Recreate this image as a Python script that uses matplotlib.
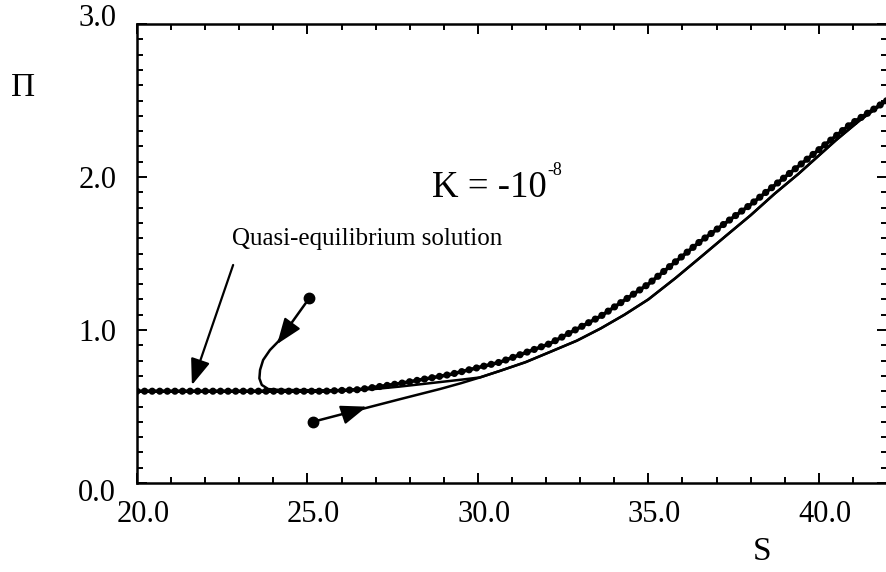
import matplotlib
matplotlib.use('Agg')
import matplotlib.pyplot as plt
from matplotlib.ticker import MultipleLocator
from matplotlib.transforms import ScaledTranslation

plt.rcParams['font.family'] = ['Liberation Serif', 'DejaVu Serif']

# quasi-equilibrium solution (thick beaded curve)
quasi_s = [20.0, 22.0, 24.0, 25.5, 26.5, 27.7, 29.2, 30.65, 32.1, 33.6,
           35.0, 36.5, 38.0, 39.4, 40.9, 42.0]
quasi_pi = [0.60, 0.60, 0.60, 0.60, 0.61, 0.65, 0.71, 0.79, 0.91, 1.09,
            1.30, 1.575, 1.82, 2.07, 2.34, 2.50]

# trajectory starting above (S=25, Pi=1.2)
traj_a_s = [25.05, 24.14, 23.90, 23.70, 23.61, 23.59, 23.66, 23.85, 24.19,
            26.0, 27.0, 27.7, 28.3, 28.9, 29.5]
traj_a_pi = [1.207, 0.924, 0.869, 0.804, 0.739, 0.684, 0.641, 0.614, 0.608,
             0.605, 0.615, 0.63, 0.645, 0.66, 0.675]

# trajectory starting below (S=25, Pi=0.4)
traj_b_s = [25.16, 26.45, 27.7, 28.9, 29.5]
traj_b_pi = [0.40, 0.475, 0.547, 0.615, 0.652]

# common part after the two trajectories merge
tail_s = [30.06, 30.65, 31.4, 32.1, 32.9, 33.6, 34.3, 35.0, 35.8, 36.5,
          37.3, 38.0, 38.7, 39.4, 40.5, 41.2, 42.0]
tail_pi = [0.69, 0.733, 0.79, 0.855, 0.93, 1.01, 1.10, 1.20, 1.34, 1.47,
           1.62, 1.75, 1.89, 2.02, 2.24, 2.37, 2.50]

# arrowheads on the trajectories: (tail, tip)
arrow_a = ((24.34, 0.978), (24.11, 0.908))
arrow_b = ((26.30, 0.466), (26.74, 0.499))

x_ticks = [20.0, 25.0, 30.0, 35.0, 40.0]
y_ticks = [0.0, 1.0, 2.0, 3.0]

W, H = 886, 572
fig = plt.figure(figsize=(W / 100, H / 100), dpi=100)
ax = fig.add_axes([137 / W, 1 - 483 / H, 750 / W, (483 - 24) / H])

ax.plot(quasi_s, quasi_pi, color='black', lw=2.6, solid_capstyle='round',
        solid_joinstyle='round', zorder=3)
ax.plot(quasi_s, quasi_pi, color='black', lw=5.2, linestyle=(0, (0.001, 1.05)),
        dash_capstyle='round', zorder=3)

a_s = traj_a_s + tail_s
a_pi = traj_a_pi + tail_pi
b_s = traj_b_s + tail_s
b_pi = traj_b_pi + tail_pi
ax.plot(a_s, a_pi, color='black', lw=1.8, solid_joinstyle='round', zorder=4)
ax.plot(b_s, b_pi, color='black', lw=1.8, solid_joinstyle='round', zorder=4)
ax.plot([traj_a_s[0], traj_b_s[0]], [traj_a_pi[0], traj_b_pi[0]], 'o',
        color='black', ms=7.5, zorder=5)

for tail, tip in (arrow_a, arrow_b):
    ax.annotate('', xy=tip, xytext=tail,
                arrowprops=dict(arrowstyle='-|>,head_length=0.8,head_width=0.3',
                                color='black', lw=1.5, mutation_scale=20,
                                shrinkA=0, shrinkB=0), zorder=6)

# pointer from the label to the quasi-equilibrium line
ax.annotate('', xy=(21.61, 0.64), xytext=(22.82, 1.425),
            arrowprops=dict(arrowstyle='-|>,head_length=0.8,head_width=0.3',
                            color='black', lw=1.6, mutation_scale=20,
                            shrinkA=0, shrinkB=0), zorder=6)
ax.text(22.79, 1.556, 'Quasi-equilibrium solution', fontsize=18,
        ha='left', va='baseline')
ax.text(28.65, 1.869, 'K = -10', fontsize=26.5, ha='left', va='baseline')
ax.text(32.05, 2.013, '-8', fontsize=13, ha='left', va='baseline')

ax.set_xlim(20, 42)
ax.set_ylim(0, 3)
ax.set_xticks(x_ticks)
ax.set_yticks(y_ticks)
ax.set_xticklabels(['%.1f' % v for v in x_ticks])
ax.set_yticklabels(['%.1f' % v for v in y_ticks])
ax.xaxis.set_minor_locator(MultipleLocator(1.0))
ax.yaxis.set_minor_locator(MultipleLocator(0.1))
ax.tick_params(which='both', direction='in', top=True, right=True,
               width=1.4, labelsize=22)
ax.tick_params(which='major', length=7.5)
ax.tick_params(which='minor', length=4.3)
ax.tick_params(axis='x', pad=12)
ax.tick_params(axis='y', pad=15)
for sp in ax.spines.values():
    sp.set_linewidth(1.8)

shift = ScaledTranslation(6 / 100, 0, fig.dpi_scale_trans)
for lab in ax.get_xticklabels():
    lab.set_transform(lab.get_transform() + shift)
ylabs = ax.get_yticklabels()
ylabs[-1].set_transform(ylabs[-1].get_transform() + ScaledTranslation(0, 9 / 100, fig.dpi_scale_trans))
ylabs[0].set_transform(ylabs[0].get_transform() + ScaledTranslation(0, -7 / 100, fig.dpi_scale_trans))

fig.text(23 / W, 1 - 88 / H, '\u03a0', fontsize=24, ha='center', va='center')
fig.text(762 / W, 1 - 552 / H, 'S', fontsize=24, ha='center', va='center')

fig.savefig('out.png', dpi=100)
